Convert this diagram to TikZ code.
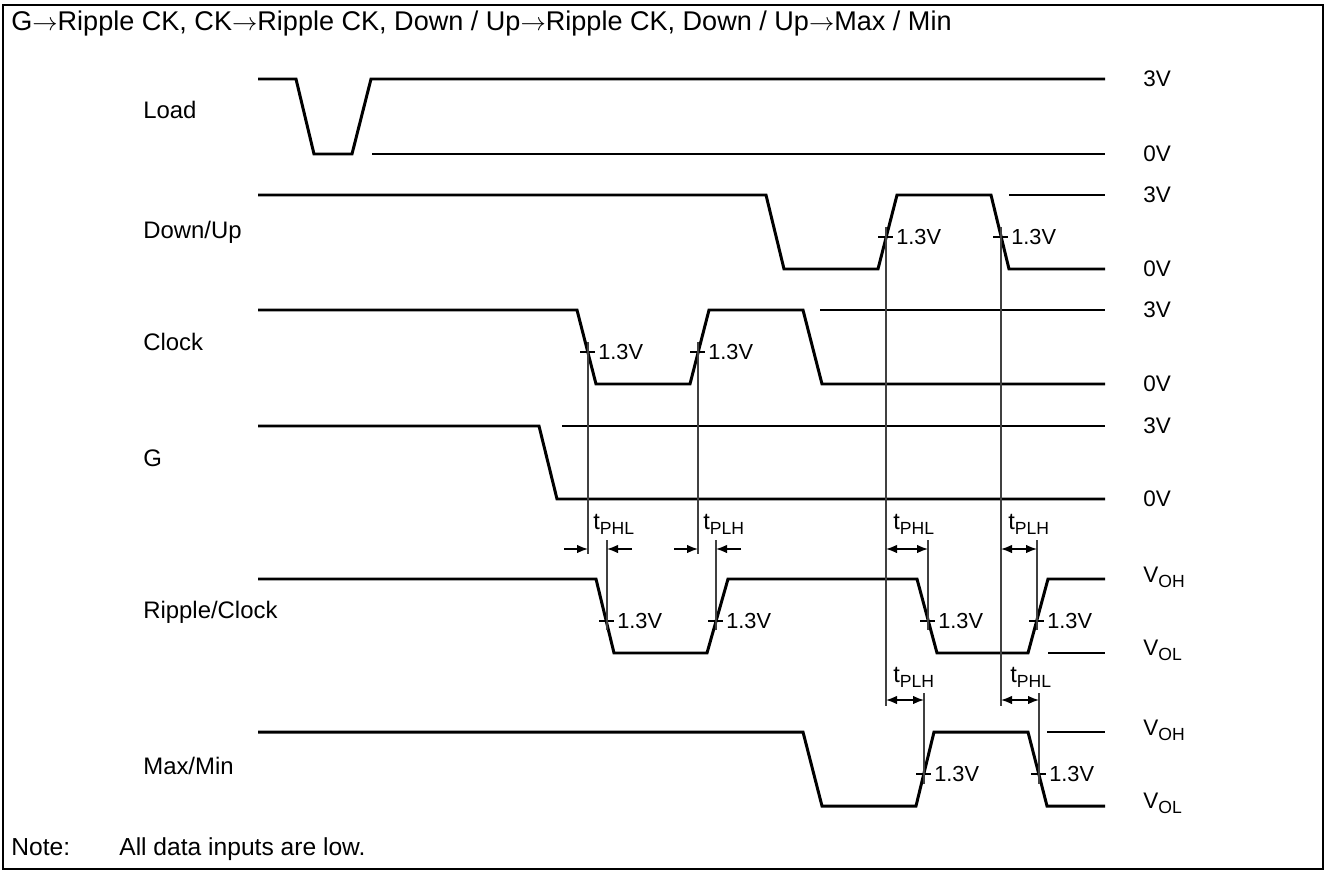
\documentclass[tikz,border=0pt]{standalone}
\usepackage{fontspec}
\setmainfont{Liberation Sans}
\usetikzlibrary{arrows.meta, calc}
\newcommand{\lowsub}[1]{\raisebox{-2.8pt}{\fontsize{10}{11}\selectfont #1}}
\tikzset{
    wave/.style={line width=1.7pt, line join=miter},
    reflevel/.style={line width=0.8pt},
    guide/.style={line width=0.7pt, draw=black!75},
    txt/.style={anchor=west, inner sep=0pt, font=\fontsize{12.4}{14}\selectfont},
    signame/.style={txt, font=\fontsize{13.6}{16}\selectfont},
    volts/.style={txt, font=\fontsize{12.8}{15}\selectfont},
    tlabel/.style={txt, anchor=south west, font=\fontsize{13.4}{16}\selectfont},
    dimarrow/.style={line width=0.8pt, -{Latex[length=2.2mm, width=1.7mm]}},
    dimboth/.style={line width=0.8pt, {Latex[length=2.2mm, width=1.7mm]}-{Latex[length=2.2mm, width=1.7mm]}}
}

\begin{document}
\begin{tikzpicture}[x=0.02cm, y=-0.02cm]
  \useasboundingbox (0,0) rectangle (1326,872);
  \draw[line width=1.1pt] (3,5) rectangle (1323,869);

  \node[txt, font=\fontsize{15.4}{18}\selectfont] (title) at (11,24) {G$\rightarrow$Ripple CK, CK$\rightarrow$Ripple CK, Down / Up$\rightarrow$Ripple CK, Down / Up$\rightarrow$Max / Min};

  % signal names
  \node[signame] (load) at (143,110) {Load};
  \node[signame] (dnup) at (143,232) {Down/Up};
  \node[signame] (clk)  at (143,342) {Clock};
  \node[signame] (gate) at (143,458) {G};
  \node[signame] (rpl)  at (143,612) {Ripple/Clock};
  \node[signame] (mxmn) at (143,766) {Max/Min};

  % waveforms
  \draw[wave] (258,79) -- (296,79) -- (314,154) -- (352,154) -- (371,79) -- (1105,79);
  \draw[reflevel] (372,154) -- (1105,154);
  \draw[wave] (258,195) -- (766,195) -- (784,269) -- (878,269) -- (897,195) -- (991,195) -- (1009,269) -- (1105,269);
  \draw[reflevel] (1009,195) -- (1105,195);
  \draw[wave] (258,310) -- (577,310) -- (596,384) -- (690,384) -- (709,310) -- (803,310) -- (822,384) -- (1105,384);
  \draw[reflevel] (820,310) -- (1105,310);
  \draw[wave] (258,426) -- (539,426) -- (557,499) -- (1105,499);
  \draw[reflevel] (562,426) -- (1105,426);
  \draw[wave] (258,579) -- (596,579) -- (614,653) -- (707,653) -- (728,579) -- (917,579) -- (937,653) -- (1028,653) -- (1048,579) -- (1105,579);
  \draw[reflevel] (1048,653) -- (1105,653);
  \draw[wave] (258,732) -- (803,732) -- (822,806) -- (916,806) -- (934,732) -- (1028,732) -- (1047,806) -- (1105,806);
  \draw[reflevel] (1047,732) -- (1105,732);

  % levels
  \node[volts] (v1) at (1143,79)  {3V};
  \node[volts] (v2) at (1143,154) {0V};
  \node[volts] (v3) at (1143,195) {3V};
  \node[volts] (v4) at (1143,269) {0V};
  \node[volts] (v5) at (1143,310) {3V};
  \node[volts] (v6) at (1143,384) {0V};
  \node[volts] (v7) at (1143,426) {3V};
  \node[volts] (v8) at (1143,499) {0V};
  \node[volts] (v9)  at (1143,577) {V\lowsub{OH}};
  \node[volts] (v10) at (1143,650) {V\lowsub{OL}};
  \node[volts] (v11) at (1143,730) {V\lowsub{OH}};
  \node[volts] (v12) at (1143,803) {V\lowsub{OL}};

  % 1.3V crossings
  \coordinate (duR)  at (886,237);
  \coordinate (duF)  at (1001,237);
  \coordinate (ckF)  at (588,352);
  \coordinate (ckR)  at (698,352);
  \coordinate (rcF)  at (607,621);
  \coordinate (rcR)  at (716,621);
  \coordinate (rcFb) at (928,621);
  \coordinate (rcRb) at (1037,621);
  \coordinate (mmR)  at (924,774);
  \coordinate (mmF)  at (1039,774);
  \coordinate (rowA) at (0,549);
  \coordinate (rowB) at (0,700);

  \foreach \p in {duR,duF,ckF,ckR,rcF,rcR,rcFb,rcRb,mmR,mmF}
    \draw[line width=0.7pt] ($(\p)+(-8,0)$) -- ($(\p)+(7,0)$) node[txt, xshift=1.5pt] {1.3V};

  \foreach \p in {ckF,ckR}
    \draw[guide] ($(\p)+(0,-10)$) -- ($(\p |- rowA)+(0,5)$);
  \foreach \p in {rcF,rcR,rcFb,rcRb}
    \draw[guide] ($(\p |- rowA)+(0,-9)$) -- ($(\p)+(0,9)$);
  \foreach \p in {duR,duF}
    \draw[guide] ($(\p)+(0,-10)$) -- ($(\p |- rowB)+(0,6)$);
  \foreach \p in {mmR,mmF}
    \draw[guide] ($(\p |- rowB)+(0,-7)$) -- ($(\p)+(0,10)$);

  % propagation delays
  \draw[dimarrow] ($(ckF |- rowA)+(-24,0)$) -- (ckF |- rowA);
  \draw[dimarrow] ($(rcF |- rowA)+(25,0)$) -- (rcF |- rowA);
  \draw[dimarrow] ($(ckR |- rowA)+(-24,0)$) -- (ckR |- rowA);
  \draw[dimarrow] ($(rcR |- rowA)+(25,0)$) -- (rcR |- rowA);
  \draw[dimboth] (duR |- rowA) -- (rcFb |- rowA);
  \draw[dimboth] (duF |- rowA) -- (rcRb |- rowA);
  \draw[dimboth] (duR |- rowB) -- (mmR |- rowB);
  \draw[dimboth] (duF |- rowB) -- (mmF |- rowB);

  \node[tlabel] (t1) at ($(ckF |- rowA)+(5,-14)$) {t\lowsub{PHL}};
  \node[tlabel] (t2) at ($(ckR |- rowA)+(5,-14)$) {t\lowsub{PLH}};
  \node[tlabel] (t3) at ($(duR |- rowA)+(7,-14)$) {t\lowsub{PHL}};
  \node[tlabel] (t4) at ($(duF |- rowA)+(7,-14)$) {t\lowsub{PLH}};
  \node[tlabel] (t5) at ($(duR |- rowB)+(7,-12)$) {t\lowsub{PLH}};
  \node[tlabel] (t6) at ($(duF |- rowB)+(9,-12)$) {t\lowsub{PHL}};

  \node[signame, anchor=base west, font=\fontsize{14}{17}\selectfont] (note) at (11,855) {Note:};
  \node[signame, anchor=base west, font=\fontsize{14}{17}\selectfont] (notetext) at (119,855) {All data inputs are low.};
\end{tikzpicture}
\end{document}
